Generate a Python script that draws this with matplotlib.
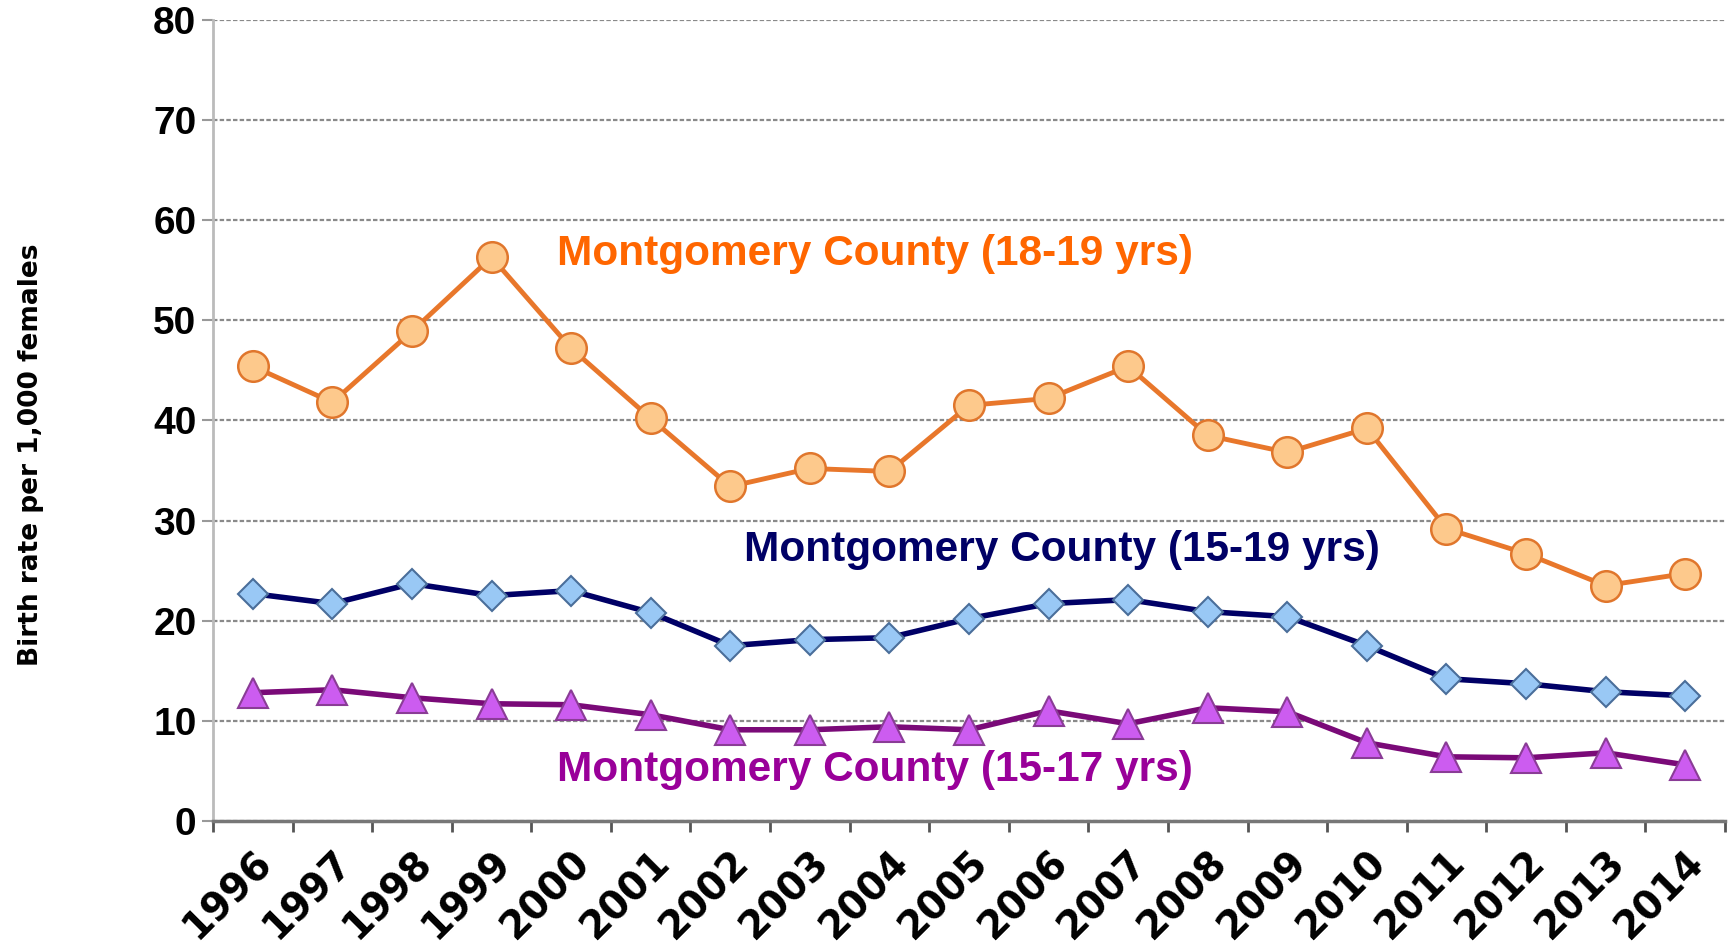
import numpy as np
import matplotlib
matplotlib.use('Agg')
import matplotlib.pyplot as plt

years = [str(y) for y in range(1996, 2015)]

rate_18_19 = [45.4, 41.8, 48.9, 56.3, 47.2, 40.2, 33.4, 35.2, 34.9, 41.5,
              42.2, 45.4, 38.5, 36.8, 39.2, 29.2, 26.7, 23.5, 24.7]
rate_15_19 = [22.7, 21.7, 23.7, 22.5, 23.0, 20.8, 17.5, 18.1, 18.3, 20.2,
              21.7, 22.1, 20.9, 20.4, 17.5, 14.2, 13.7, 12.9, 12.5]
rate_15_17 = [12.8, 13.1, 12.3, 11.7, 11.6, 10.6, 9.1, 9.1, 9.4, 9.1,
              11.0, 9.7, 11.3, 10.9, 7.8, 6.4, 6.3, 6.8, 5.6]

label_18_19 = 'Montgomery County (18-19 yrs)'
label_15_19 = 'Montgomery County (15-19 yrs)'
label_15_17 = 'Montgomery County (15-17 yrs)'

plt.rcParams['font.family'] = ['Liberation Sans', 'DejaVu Sans']

fig = plt.figure(figsize=(17.35, 9.49), dpi=100)
ax = fig.add_axes([0.1228, 0.135, 0.8714, 0.844])

x = np.arange(len(years))

ax.plot(x, rate_18_19, color='#E8772B', lw=3.5, marker='o', ms=22,
        mfc='#FDC98C', mec='#E0762C', mew=1.8, zorder=4)
ax.plot(x, rate_15_19, color='#000066', lw=4, marker='D', ms=15,
        mfc='#99C8F5', mec='#4A6E9A', mew=1.5, zorder=3)
ax.plot(x, rate_15_17, color='#7A0A78', lw=4, marker='^', ms=21,
        mfc='#CC5CF0', mec='#8A3C96', mew=1.5, zorder=3)

# series labels drawn in the plot area
ax.text(3.82, 56.6, label_18_19, color='#FF6600', fontsize=30.5,
        fontweight='bold', va='center', ha='left')
ax.text(6.17, 27.1, label_15_19, color='#000066', fontsize=30.5,
        fontweight='bold', va='center', ha='left')
ax.text(3.82, 5.1, label_15_17, color='#990099', fontsize=30.5,
        fontweight='bold', va='center', ha='left')

ax.set_xlim(-0.5, len(years) - 0.5)
ax.set_ylim(0, 80)
ax.set_yticks(np.arange(0, 81, 10))
ax.set_xticks(x)
ax.set_xticklabels(years, rotation=45, ha='right', rotation_mode='anchor',
                   fontsize=28, fontweight='bold', family='DejaVu Sans')
ax.set_xticks(np.arange(-0.5, len(years), 1), minor=True)
ax.tick_params(axis='x', which='major', length=0, pad=16)
ax.tick_params(axis='x', which='minor', length=8, width=2, color='#555555')
ax.tick_params(axis='y', length=8, width=1.5, color='#999999', pad=4)
for lbl in ax.get_yticklabels():
    lbl.set_fontsize(28)
    lbl.set_fontweight('bold')

ax.yaxis.grid(True, linestyle=(0, (2, 1)), color='#8A8A8A', lw=1.6)
ax.set_axisbelow(True)

for side in ['top', 'right']:
    ax.spines[side].set_visible(False)
ax.spines['left'].set_color('#BBBBBB')
ax.spines['left'].set_linewidth(2)
ax.spines['bottom'].set_color('#777777')
ax.spines['bottom'].set_linewidth(2.5)

ax.set_ylabel('Birth rate per 1,000 females', fontsize=19, fontweight='bold',
              family='DejaVu Sans')
ax.yaxis.set_label_coords(-0.112, 0.457)

fig.savefig('out.png', dpi=100)
